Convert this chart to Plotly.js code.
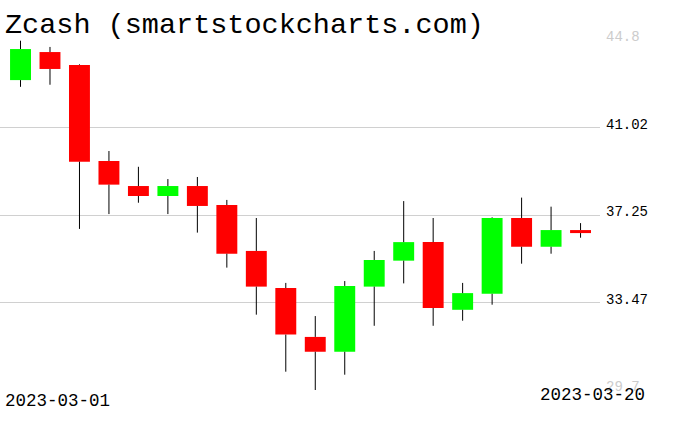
<!DOCTYPE html>
<html>
<head>
<meta charset="utf-8">
<script src="https://cdn.plot.ly/plotly-3.0.1.min.js"></script>
<style>html,body{margin:0;padding:0;background:#fff;}#chart{width:676px;height:431px;}</style>
</head>
<body>
<div id="chart"></div>
<script>
const chartTitle = 'Zcash (smartstockcharts.com)';
const dates = ['2023-03-01','2023-03-02','2023-03-03','2023-03-04','2023-03-05','2023-03-06','2023-03-07','2023-03-08','2023-03-09','2023-03-10',
               '2023-03-11','2023-03-12','2023-03-13','2023-03-14','2023-03-15','2023-03-16','2023-03-17','2023-03-18','2023-03-19','2023-03-20'];
const openP  = [43.07,44.28,43.72,39.58,38.50,38.07,38.50,37.68,35.70,34.10,31.99,31.35,34.16,35.28,36.08,33.16,33.85,37.12,35.88,36.60];
const highP  = [44.77,44.50,43.75,40.01,39.33,38.80,38.89,37.90,37.12,34.32,32.89,34.40,35.70,37.85,37.12,34.32,37.15,38.00,37.61,36.90];
const lowP   = [42.78,42.87,36.65,37.29,37.78,37.29,36.49,34.98,32.95,30.49,29.70,30.36,32.47,34.30,32.47,32.69,33.38,35.15,35.58,36.27];
const closeP = [44.41,43.55,39.55,38.56,38.07,38.50,37.64,35.58,34.16,32.09,31.35,34.19,35.31,36.08,33.24,33.88,37.12,35.88,36.60,36.47];
const yTicks = [29.7,33.47,37.25,41.02,44.8];
const yTickText = ['29.7','33.47','37.25','41.02','44.8'];

const UP = '#00ff00', DOWN = '#ff0000';
const bodyBase = [], bodyLen = [], bodyCol = [];
const wx = [], wy = [];
for (let i = 0; i < dates.length; i++) {
  const top = Math.max(openP[i], closeP[i]);
  const bot = Math.min(openP[i], closeP[i]);
  bodyBase.push(bot);
  bodyLen.push(Math.max(top - bot, 0.08));
  bodyCol.push(closeP[i] >= openP[i] ? UP : DOWN);
  wx.push(dates[i], dates[i], null, dates[i], dates[i], null);
  wy.push(highP[i], top, null, bot, lowP[i], null);
}

const traces = [
  { type: 'bar', x: dates, y: bodyLen, base: bodyBase, width: 0.71,
    marker: { color: bodyCol, line: { width: 0 } }, hoverinfo: 'skip', showlegend: false },
  { type: 'scatter', mode: 'lines', x: wx, y: wy, connectgaps: false,
    line: { color: '#000', width: 1 }, hoverinfo: 'skip', showlegend: false }
];

const tickTextStyled = yTickText.map((t, i) => (i === 0 || i === yTickText.length - 1)
  ? '<span style="color:#cccccc">' + t + '</span>' : t);

const layout = {
  width: 676, height: 431,
  margin: { l: 0, r: 76, t: 40, b: 41, pad: 0 },
  paper_bgcolor: '#fff', plot_bgcolor: '#fff',
  font: { family: 'Liberation Mono, DejaVu Sans Mono, monospace', color: '#000' },
  title: { text: chartTitle, font: { family: 'Liberation Mono, DejaVu Sans Mono, monospace', size: 28.5, color: '#000' },
           x: 5/676, xref: 'container', xanchor: 'left', y: 1 - 13/431, yref: 'container', yanchor: 'top' },
  xaxis: { type: 'category', range: [-0.696, 19.66], showgrid: false, zeroline: false,
           showticklabels: false, ticks: '', showline: false, fixedrange: true },
  yaxis: { side: 'right', range: [29.7, 44.8], tickvals: yTicks, ticktext: tickTextStyled,
           showgrid: true, gridcolor: '#d0d0d0', gridwidth: 1, zeroline: false, showline: false,
           ticks: '', ticklabelstandoff: 5, ticklabelshift: -4,
           tickfont: { family: 'Liberation Mono, DejaVu Sans Mono, monospace', size: 14, color: '#000' } },
  annotations: [
    { text: dates[0], xref: 'paper', yref: 'paper', x: 3/600, y: -11/350, xanchor: 'left', yanchor: 'middle',
      showarrow: false, font: { size: 17.5, color: '#000' } },
    { text: dates[dates.length - 1], xref: 'paper', yref: 'paper', x: 647/600, y: -5/350, xanchor: 'right', yanchor: 'middle',
      showarrow: false, font: { size: 17.5, color: '#000' } }
  ],
  showlegend: false
};

Plotly.newPlot('chart', traces, layout, { displayModeBar: false, staticPlot: true });
</script>
</body>
</html>
